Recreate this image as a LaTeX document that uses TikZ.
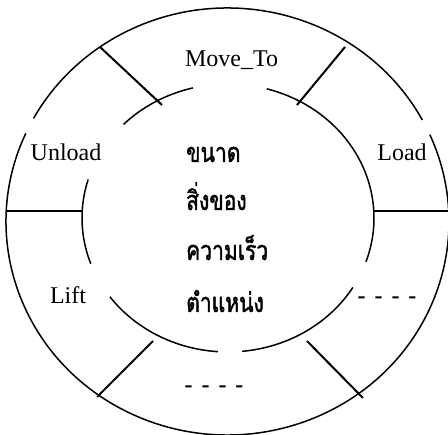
\documentclass[tikz,border=0pt]{standalone}
\usepackage{fontspec}
\usetikzlibrary{calc}
\setmainfont{Liberation Serif}
\newfontfamily\thaifont[Script=Thai,FakeStretch=0.78,FakeBold=1.5]{Loma}
\begin{document}
\begin{tikzpicture}[x=1pt,y=1pt,
  ring/.style={line width=1.5pt},
  spoke/.style={line width=2pt},
  lbl/.style={inner sep=0pt,anchor=base,font=\fontsize{24}{28}\selectfont},
  thai/.style={inner sep=0pt,anchor=base west,font=\thaifont\fontsize{27}{30}\selectfont}]
\useasboundingbox (0,0) rectangle (448,435);
\clip (0,0) rectangle (448,435);
\fill[white] (0,0) rectangle (448,435);
% centres
\coordinate (oc) at (227.5,213.5);
\coordinate (ic) at (228,217);
% outer ring pieces
\draw[ring] ($(oc)+(28.4:221.5 and 213.5)$) arc[start angle=28.4,end angle=151.1,x radius=221.5,y radius=213.5];
\draw[ring] ($(oc)+(155.6:221.5 and 213.5)$) arc[start angle=155.6,end angle=384,x radius=221.5,y radius=213.5];
% inner ring pieces
\draw[ring] ($(ic)+(103.9:146 and 134)$) arc[start angle=103.9,end angle=135.7,x radius=146,y radius=134];
\draw[ring] ($(ic)+(-19.1:146 and 134)$) arc[start angle=-19.1,end angle=74.6,x radius=146,y radius=134];
\draw[ring] ($(ic)+(163.3:146 and 134)$) arc[start angle=163.3,end angle=200,x radius=146,y radius=134];
\draw[ring] ($(ic)+(216:146 and 134)$) arc[start angle=216,end angle=266,x radius=146,y radius=134];
\draw[ring] ($(ic)+(275.5:146 and 134)$) arc[start angle=275.5,end angle=328.8,x radius=146,y radius=134];
% spoke end points
\coordinate (s1o) at (100,388); \coordinate (s1i) at (162,330);
\coordinate (s2o) at (345,388); \coordinate (s2i) at (297,330);
\coordinate (s3o) at (6,224);   \coordinate (s3i) at (83,224);
\coordinate (s4o) at (449,224); \coordinate (s4i) at (374,224);
\coordinate (s5o) at (97,38);   \coordinate (s5i) at (153,94);
\coordinate (s6o) at (363,37);  \coordinate (s6i) at (307,94);
\draw[spoke] (s1o) -- (s1i);
\draw[spoke] (s2o) -- (s2i);
\draw[spoke] (s3o) -- (s3i);
\draw[spoke] (s4o) -- (s4i);
\draw[spoke] (s5o) -- (s5i);
\draw[spoke] (s6o) -- (s6i);
% labels
\node[lbl] (move) at (231.5,368) {Move\_To};
\node[lbl] (unload) at (66,274) {Unload};
\node[lbl] (load) at (402,274) {Load};
\node[lbl] (lift) at (68,131) {Lift};
\node[lbl] (dr) at (387,131) {\bfseries -\hspace{9pt}-\hspace{9pt}-\hspace{9pt}-};
\node[lbl] (db) at (214,42) {\bfseries -\hspace{9pt}-\hspace{9pt}-\hspace{9pt}-};
\node[thai] (t1) at (186,273) {ขนาด};
\node[thai] (t2) at (186,225) {สิ่งของ};
\node[thai] (t3) at (186,175) {ความเร็ว};
\node[thai] (t4) at (186,123) {ตำแหน่ง};
\end{tikzpicture}
\end{document}
